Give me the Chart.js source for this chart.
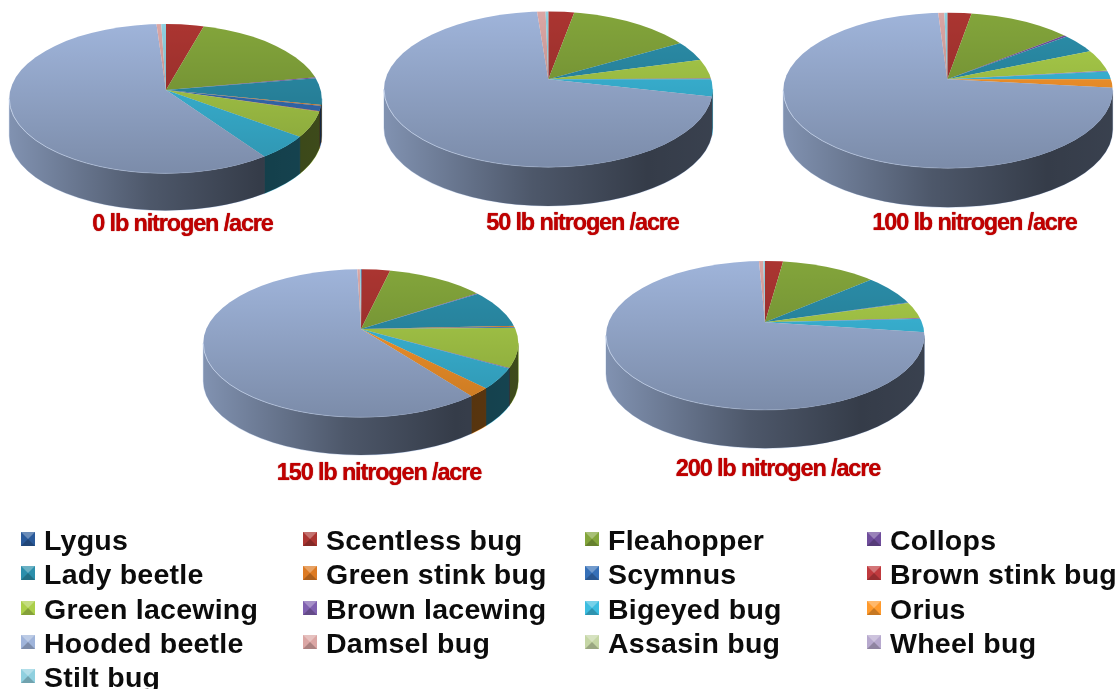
<!DOCTYPE html>
<html>
<head>
<meta charset="utf-8">
<title>Insect share by nitrogen rate</title>
<script src="https://cdn.jsdelivr.net/npm/chart.js@4"></script>
<style>
    html, body { margin: 0; padding: 0; background: #fff; }
    #stage { position: relative; width: 1120px; height: 689px; overflow: hidden; filter: blur(0.55px); font-family: "Liberation Sans", Arial, sans-serif; }
    #stage canvas { position: absolute; left: 0; top: 0; }
    .pie-title { position: absolute; transform: translate(-50%, -50%); white-space: nowrap; font-size: 23.5px; font-weight: bold; letter-spacing: -1.15px; color: #c00000; text-shadow: 0 0 1px #8c0000; }
    .key { position: absolute; height: 32px; line-height: 32px; font-size: 28.5px; font-weight: bold; letter-spacing: 0.25px; color: #0c0c0c; white-space: nowrap; transform: translateY(-50%); }
    .swatch { position: absolute; left: -23px; top: 8px; width: 0; height: 0; border-style: solid; border-width: 7px; }
</style>
</head>
<body>
<div id="stage"></div>
<script>
    const species = ['Lygus', 'Scentless bug', 'Fleahopper', 'Collops', 'Lady beetle', 'Green stink bug', 'Scymnus', 'Brown stink bug', 'Green lacewing', 'Brown lacewing', 'Bigeyed bug', 'Orius', 'Hooded beetle', 'Damsel bug', 'Assasin bug', 'Wheel bug', 'Stilt bug'];

    const nitrogen0 = [0, 4.4, 17.8, 0.2, 5.75, 0.2, 1.1, 0.1, 5.5, 0, 5.15, 0, 58.7, 0.55, 0, 0, 0.55];
    const nitrogen50 = [0, 2.9, 13.75, 0, 4.15, 0, 0, 0, 4.05, 0.15, 3.5, 0, 70.25, 0.95, 0, 0, 0.3];
    const nitrogen100 = [0, 2.75, 11.6, 0.35, 4.05, 0, 0, 0, 4.45, 0.2, 1.6, 1.7, 72.3, 0.7, 0, 0, 0.33];
    const nitrogen150 = [0.1, 3.57, 12.1, 0.15, 8.4, 0.2, 0.2, 0, 8.4, 0.1, 4.35, 1.95, 60, 0.32, 0, 0, 0.14];
    const nitrogen200 = [0, 2.2, 11.5, 0, 6.65, 0, 0.15, 0, 3.55, 0.17, 2.85, 0, 72.1, 0.53, 0, 0, 0.2];

    const titles = ['0 lb nitrogen /acre', '50 lb nitrogen /acre', '100 lb nitrogen /acre', '150 lb nitrogen /acre', '200 lb nitrogen /acre'];
    const seriesList = [nitrogen0, nitrogen50, nitrogen100, nitrogen150, nitrogen200];

    const speciesColors = ['#2a5a9a', '#ab3531', '#83a53b', '#6f4d9b', '#2b8fab', '#dd7a22', '#3670b8', '#c03a3e', '#abcf4a', '#8060b0', '#3cbde0', '#ff9a2c', '#9fb4da', '#dba6a4', '#c5d6a5', '#b7a9ce', '#8fd0df'];

    // apex = where the slices meet, the rim ellipse sits lower because of the perspective
    const frames = [
        { apexX: 166, apexY: 90, cx: 165.5, cy: 98.7, rx: 156.2, ry: 74.7, depth: 37, titleX: 182.5, titleY: 223 },
        { apexX: 548.3, apexY: 79.3, cx: 548.3, cy: 89.4, rx: 164.3, ry: 77.8, depth: 38.7, titleX: 582.5, titleY: 222 },
        { apexX: 947.3, apexY: 79.3, cx: 948, cy: 90.5, rx: 164.7, ry: 77.8, depth: 39, titleX: 974.5, titleY: 222 },
        { apexX: 361, apexY: 329, cx: 360.8, cy: 343.3, rx: 157.5, ry: 74, depth: 37.7, titleX: 379, titleY: 472 },
        { apexX: 765, apexY: 322.3, cx: 765.2, cy: 335.5, rx: 159.2, ry: 74.5, depth: 38.3, titleX: 778, titleY: 468 }
    ];

    const keyColumns = [44, 326, 608, 890];
    const keyRows = [540, 574, 608.5, 643, 677];

    function _RimAngle(frame, angle) {
        let u = (frame.apexX - frame.cx) / frame.rx;
        let v = (frame.apexY - frame.cy) / frame.ry;
        let b = u * Math.cos(angle) + v * Math.sin(angle);
        let c = u * u + v * v - 1;
        let s = -b + Math.sqrt(b * b - c);
        return Math.atan2(v + s * Math.sin(angle), u + s * Math.cos(angle));
    }

    function _WallPath(ctx, frame, from, to) {
        ctx.beginPath();
        ctx.ellipse(frame.cx, frame.cy, frame.rx, frame.ry, 0, from, to);
        ctx.ellipse(frame.cx, frame.cy + frame.depth, frame.rx, frame.ry, 0, to, from, true);
        ctx.closePath();
    }

    function _DrawWall(chart, frame) {
        let ctx = chart.ctx;
        chart.getDatasetMeta(0).data.forEach(function (arc) {
            if (arc.endAngle - arc.startAngle <= 0) return;
            let t1 = _RimAngle(frame, arc.startAngle);
            let t2 = _RimAngle(frame, arc.endAngle);
            while (t2 < t1) t2 += Math.PI * 2;
            let from = Math.max(t1, 0);
            let to = Math.min(t2, Math.PI);
            if (to <= from) return;
            _WallPath(ctx, frame, from, to);
            ctx.fillStyle = arc.options.backgroundColor;
            ctx.strokeStyle = arc.options.backgroundColor;
            ctx.lineWidth = 0.5;
            ctx.fill();
            ctx.stroke();
        });

        let shade = ctx.createLinearGradient(frame.cx - frame.rx, 0, frame.cx + frame.rx, 0);
        shade.addColorStop(0, '#cfcfcf');
        shade.addColorStop(0.45, '#7c7c7c');
        shade.addColorStop(0.8, '#555555');
        shade.addColorStop(1, '#5c5c5c');
        ctx.globalCompositeOperation = 'multiply';
        _WallPath(ctx, frame, 0, Math.PI);
        ctx.fillStyle = shade;
        ctx.fill();
        ctx.globalCompositeOperation = 'source-over';
    }

    const tiltPlugin = {
        id: 'tiltPie',
        beforeDatasetsDraw(chart, args, opts) {
            let ctx = chart.ctx;
            let frame = opts.frame;
            let arc = chart.getDatasetMeta(0).data[0];
            _DrawWall(chart, frame);
            ctx.save();
            ctx.beginPath();
            ctx.ellipse(frame.cx, frame.cy, frame.rx, frame.ry, 0, 0, Math.PI * 2);
            ctx.clip();
            ctx.translate(frame.apexX, frame.apexY);
            ctx.scale(1, frame.ry / frame.rx);
            ctx.translate(-arc.x, -arc.y);
        },
        afterDatasetsDraw(chart, args, opts) {
            let ctx = chart.ctx;
            let frame = opts.frame;
            ctx.restore();

            let shade = ctx.createLinearGradient(0, frame.cy - frame.ry, 0, frame.cy + frame.ry);
            shade.addColorStop(0, '#ffffff');
            shade.addColorStop(1, '#c6c6c6');
            ctx.globalCompositeOperation = 'multiply';
            ctx.beginPath();
            ctx.ellipse(frame.cx, frame.cy, frame.rx, frame.ry, 0, 0, Math.PI * 2);
            ctx.fillStyle = shade;
            ctx.fill();
            ctx.globalCompositeOperation = 'source-over';

            // light rim only on the lit, left side of the front edge
            let rim = ctx.createLinearGradient(frame.cx - frame.rx, 0, frame.cx + frame.rx * 0.6, 0);
            rim.addColorStop(0, 'rgba(205, 218, 240, 0.75)');
            rim.addColorStop(1, 'rgba(205, 218, 240, 0)');
            ctx.beginPath();
            ctx.ellipse(frame.cx, frame.cy, frame.rx, frame.ry, 0, Math.PI * 0.2, Math.PI);
            ctx.strokeStyle = rim;
            ctx.lineWidth = 1;
            ctx.stroke();
        }
    };

    function _Shade(hex, factor) {
        let n = parseInt(hex.slice(1), 16);
        let parts = [n >> 16, (n >> 8) & 255, n & 255].map(function (c) {
            return Math.round(factor > 1 ? c + (255 - c) * (factor - 1) : c * factor);
        });
        return 'rgb(' + parts.join(',') + ')';
    }

    function _BuildPie(stage, index) {
        let frame = frames[index];
        let canvas = document.createElement('canvas');
        canvas.width = 1120;
        canvas.height = 689;
        stage.appendChild(canvas);

        new Chart(canvas.getContext('2d'), {
            type: 'pie',
            data: {
                labels: species,
                datasets: [{
                    label: titles[index],
                    data: seriesList[index],
                    backgroundColor: speciesColors,
                    borderWidth: 0,
                    radius: 500
                }]
            },
            options: {
                responsive: false,
                animation: false,
                events: [],
                plugins: {
                    legend: { display: false },
                    tooltip: { enabled: false },
                    tiltPie: { frame: frame }
                }
            },
            plugins: [tiltPlugin]
        });

        let title = document.createElement('div');
        title.className = 'pie-title';
        title.style.left = frame.titleX + 'px';
        title.style.top = frame.titleY + 'px';
        title.textContent = titles[index];
        stage.appendChild(title);
    }

    function _BuildKey(stage) {
        species.forEach(function (name, i) {
            let key = document.createElement('div');
            key.className = 'key';
            key.style.left = keyColumns[i % 4] + 'px';
            key.style.top = keyRows[Math.floor(i / 4)] + 'px';
            key.textContent = name;

            let swatch = document.createElement('span');
            let color = speciesColors[i];
            swatch.className = 'swatch';
            swatch.style.borderColor = _Shade(color, 1.3) + ' ' + _Shade(color, 1) + ' ' + _Shade(color, 0.78) + ' ' + _Shade(color, 1);
            key.appendChild(swatch);
            stage.appendChild(key);
        });
    }

    const stage = document.getElementById('stage');
    seriesList.forEach(function (series, i) {
        _BuildPie(stage, i);
    });
    _BuildKey(stage);
</script>
</body>
</html>
